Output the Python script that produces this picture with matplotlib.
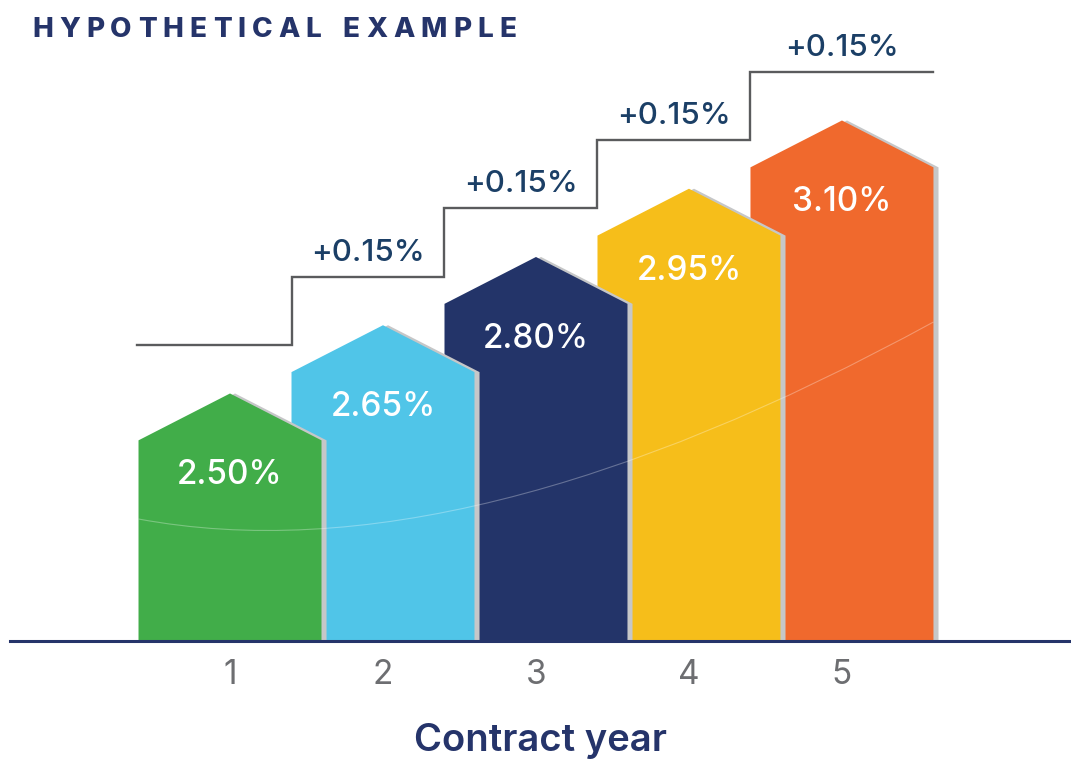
import matplotlib
matplotlib.use("Agg")
import matplotlib.pyplot as plt
from matplotlib.patches import Polygon, PathPatch
from matplotlib.path import Path

# ---- data ----
years = [1, 2, 3, 4, 5]
tick_labels = ["1", "2", "3", "4", "5"]
rates = [2.50, 2.65, 2.80, 2.95, 3.10]
rate_labels = ["2.50%", "2.65%", "2.80%", "2.95%", "3.10%"]
increments = ["+0.15%", "+0.15%", "+0.15%", "+0.15%"]
bar_colors = ["#41AD49", "#50C5E8", "#233469", "#F6BE1A", "#F0692D"]
title = "HYPOTHETICAL EXAMPLE"
xlabel = "Contract year"

NAVY = "#25346A"
GRAY_TXT = "#6D6E71"
STEP_GRAY = "#5A5B5D"
SHADOW = "#C6C7C8"
FONT = "Inter"

W, H = 1071, 769
fig = plt.figure(figsize=(W / 100, H / 100), dpi=100)
ax = fig.add_axes([10 / W, 128 / H, 1061 / W, 641 / H])
base = 2.059
ax.set_xlim(-0.438, 6.497)
ax.set_ylim(base, base + 641 / 455)

bw = 1.196      # bar width in data units
peak = 0.103    # roof height
shift = 0.033   # shadow offset

for i in range(len(years) - 1, -1, -1):
    c, v = years[i], rates[i]
    l, r = c - bw / 2, c + bw / 2
    verts = [(l, base), (l, v), (c, v + peak), (r, v), (r, base)]
    sverts = [(x + shift, y) for x, y in verts]
    z = 10 + (len(years) - i) * 2
    ax.add_patch(Polygon(sverts, closed=True, fc=SHADOW, ec="none", zorder=z))
    ax.add_patch(Polygon(verts, closed=True, fc=bar_colors[i], ec="none", zorder=z + 1))
    ax.text(c, v - 0.077, rate_labels[i], color="white", fontsize=24,
            ha="center", va="center", family=FONT, fontweight="medium", zorder=40)

# faint arc across bars
p0 = (years[0] - bw / 2, base + (641 - 519) / 455)
pc = (1 + (463 - 230) / 153, base + (641 - 579.5) / 455)
p2 = (years[-1] + bw / 2, base + (641 - 322) / 455)
arc = Path([p0, pc, p2], [Path.MOVETO, Path.CURVE3, Path.CURVE3])
ax.add_patch(PathPatch(arc, fc="none", ec="white", lw=0.8, alpha=0.3, zorder=35))

# step line
lefts = [c - bw / 2 for c in years]
step_x = [lefts[0] - 0.013] + lefts[1:] + [years[-1] + bw / 2]
levels = [v + 0.21 for v in rates]
step_y = levels + [levels[-1]]
ax.plot(step_x, step_y, drawstyle="steps-post", color=STEP_GRAY, lw=1.7,
        solid_joinstyle="miter", zorder=5)
for k, txt in enumerate(increments):
    i = k + 1
    x0 = lefts[i]
    x1 = lefts[i + 1] if i + 1 < len(lefts) else years[-1] + bw / 2
    ax.text((x0 + x1) / 2, levels[i] + 0.022, txt, color="#1B3F66", fontsize=22.5,
            ha="center", va="bottom", family=FONT, fontweight="medium")

# axes styling
for s in ["left", "right", "top"]:
    ax.spines[s].set_visible(False)
ax.spines["bottom"].set_color(NAVY)
ax.spines["bottom"].set_linewidth(2.2)
ax.spines["bottom"].set_zorder(50)
ax.set_yticks([])
ax.set_xticks(years)
ax.set_xticklabels(tick_labels, fontsize=24, color=GRAY_TXT, family=FONT)
ax.tick_params(axis="x", length=0, pad=13)
ax.set_xlabel(xlabel, fontsize=27.5, color=NAVY, family=FONT, fontweight="semibold")
ax.xaxis.set_label_coords(0.5, -0.128)
ax.patch.set_alpha(0)

# title with letter spacing
renderer = fig.canvas.get_renderer()
xpix = 32
tracking = 6.1
for ch in title:
    t = fig.text(xpix / W, 1 - 37 / H, ch, fontsize=20, fontweight="heavy",
                 color=NAVY, family=FONT, ha="left", va="baseline")
    if ch == " ":
        w = 9
    else:
        w = t.get_window_extent(renderer).width
    xpix += w + tracking

fig.savefig("out.png", dpi=100)
